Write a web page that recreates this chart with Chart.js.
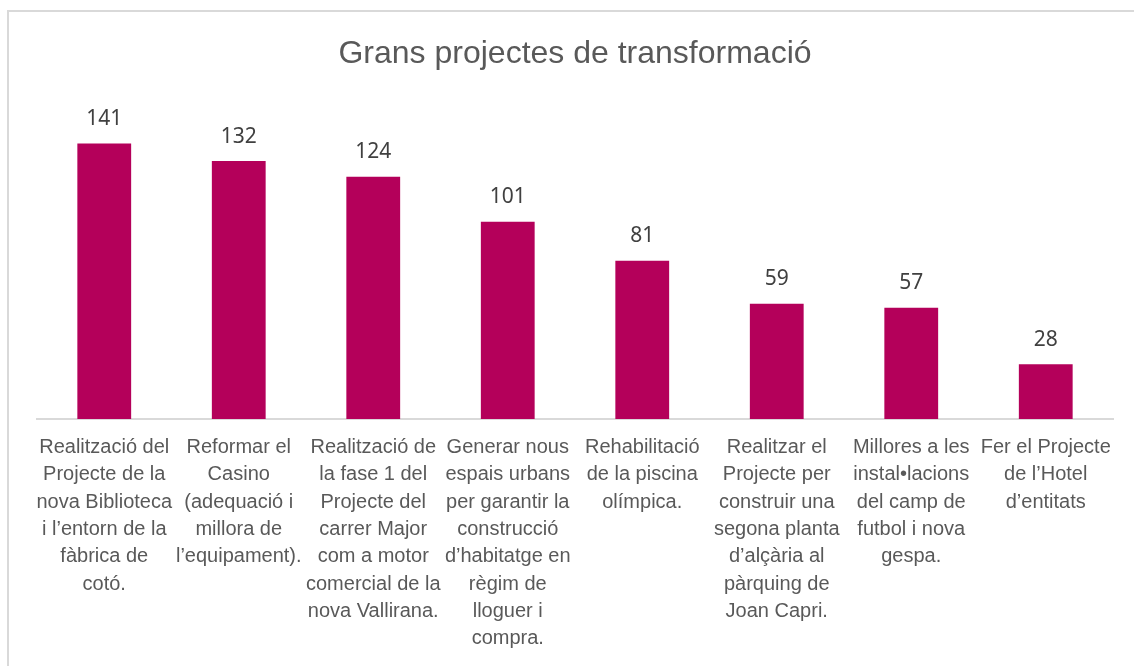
<!DOCTYPE html>
<html>
<head>
<meta charset="utf-8">
<script src="https://cdn.jsdelivr.net/npm/chart.js@4.4.1/dist/chart.umd.min.js"></script>
<style>
  html, body { margin: 0; padding: 0; background: #ffffff; overflow: hidden; }
  #wrap { position: relative; width: 1134px; height: 666px; overflow: hidden; background: #fff; }
  #frame { position: absolute; left: 7px; top: 10px; width: 1300px; height: 800px; border-left: 2px solid #d9d9d9; border-top: 2px solid #d9d9d9; box-sizing: border-box; }
  #holder { position: absolute; left: 0; top: 0; width: 1134px; height: 666px; }
</style>
</head>
<body>
<div id="wrap">
  <div id="frame"></div>
  <div id="holder"><canvas id="c"></canvas></div>
</div>
<script>
const chartTitle = "Grans projectes de transformació";

const categories = [
  ["Realització del", "Projecte de la", "nova Biblioteca", "i l’entorn de la", "fàbrica de", "cotó."],
  ["Reformar el", "Casino", "(adequació i", "millora de", "l’equipament)."],
  ["Realització de", "la fase 1 del", "Projecte del", "carrer Major", "com a motor", "comercial de la", "nova Vallirana."],
  ["Generar nous", "espais urbans", "per garantir la", "construcció", "d’habitatge en", "règim de", "lloguer i", "compra."],
  ["Rehabilitació", "de la piscina", "olímpica."],
  ["Realitzar el", "Projecte per", "construir una", "segona planta", "d’alçària al", "pàrquing de", "Joan Capri."],
  ["Millores a les", "instal•lacions", "del camp de", "futbol i nova", "gespa."],
  ["Fer el Projecte", "de l’Hotel", "d’entitats"]
];

const values = [141, 132, 124, 101, 81, 59, 57, 28];

const valueLabels = {
  id: 'valueLabels',
  afterDatasetsDraw(chart) {
    const ctx = chart.ctx;
    const meta = chart.getDatasetMeta(0);
    ctx.save();
    ctx.font = '21px "Noto Sans", "Open Sans", sans-serif';
    ctx.fillStyle = '#404040';
    ctx.textAlign = 'center';
    ctx.textBaseline = 'alphabetic';
    meta.data.forEach((bar, i) => {
      ctx.fillText(String(values[i]), bar.x, bar.y - 18.5);
    });
    ctx.restore();
  }
};

new Chart(document.getElementById('c'), {
  type: 'bar',
  data: {
    labels: categories,
    datasets: [{
      data: values,
      backgroundColor: '#B4005A',
      borderWidth: 0,
      categoryPercentage: 1.0,
      barPercentage: 0.4
    }]
  },
  options: {
    responsive: true,
    maintainAspectRatio: false,
    animation: false,
    layout: { padding: { left: 37, right: 21, top: 0, bottom: 0 } },
    plugins: {
      legend: { display: false },
      tooltip: { enabled: false },
      title: {
        display: true,
        text: chartTitle,
        color: '#595959',
        font: { family: '"Liberation Sans", Arial, sans-serif', size: 32, weight: 'normal', lineHeight: 1.2 },
        padding: { top: 35, bottom: 33 }
      }
    },
    scales: {
      x: {
        grid: { display: false, drawTicks: false },
        border: { display: true, color: '#d9d9d9', width: 2 },
        ticks: {
          color: '#595959',
          font: { family: '"Liberation Sans", Arial, sans-serif', size: 20, lineHeight: 1.365 },
          padding: 15,
          maxRotation: 0,
          minRotation: 0,
          autoSkip: false
        },
        afterFit(scale) { scale.height = 247; }
      },
      y: {
        display: false,
        min: 0,
        max: 160,
        grid: { display: false }
      }
    }
  },
  plugins: [valueLabels]
});
</script>
</body>
</html>
